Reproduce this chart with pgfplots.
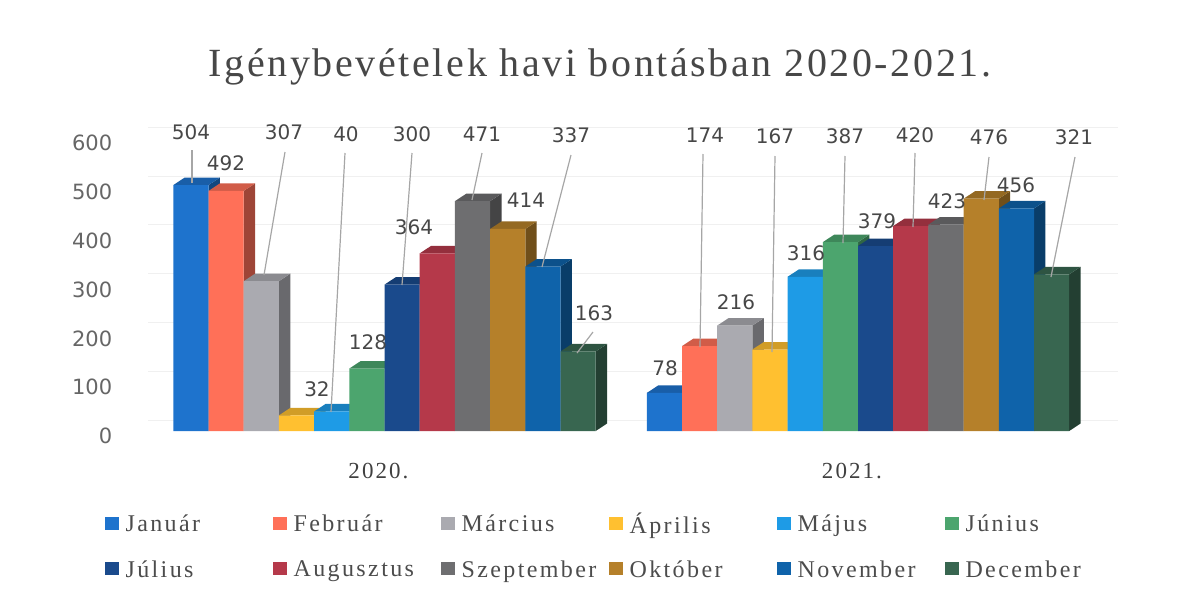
\documentclass[border=0pt]{standalone}
\usepackage{fontspec}
\usepackage{pgfplots}
\pgfplotsset{compat=1.18}
\setmainfont{Liberation Serif}
\newfontfamily\numf{DejaVu Sans}
\newfontfamily\serT[LetterSpace=6.5]{Liberation Serif}
\newfontfamily\serL[LetterSpace=9]{Liberation Serif}
\newfontfamily\serK[LetterSpace=10]{Liberation Serif}
\definecolor{cjan}{RGB}{30,115,205}
\definecolor{cfeb}{RGB}{255,112,88}
\definecolor{cmar}{RGB}{170,170,176}
\definecolor{capr}{RGB}{255,192,48}
\definecolor{cmaj}{RGB}{30,155,230}
\definecolor{cjun}{RGB}{76,165,110}
\definecolor{cjul}{RGB}{26,74,140}
\definecolor{caug}{RGB}{181,57,74}
\definecolor{csze}{RGB}{110,110,112}
\definecolor{cokt}{RGB}{181,128,42}
\definecolor{cnov}{RGB}{15,99,170}
\definecolor{cdec}{RGB}{56,102,80}
\def\ux{473.5}\def\uy{0.488}\def\bw{35.2}\def\dep{11.4}\def\dz{7.5}
\newcommand\tdface[4]{% category, index, colour, value
  \pgfmathsetmacro\xr{#1+(#2-6)*\bw/\ux}
  \pgfmathsetmacro\xl{\xr-\bw/\ux}
  \pgfmathsetmacro\xrd{\xr+\dep/\ux}
  \pgfmathsetmacro\xld{\xl+\dep/\ux}
  \pgfmathsetmacro\yz{\dz/\uy}
  \pgfmathsetmacro\yt{#4+\yz}
  \edef\temp{\noexpand\addplot[forget plot,mark=none,draw=none,fill=#3!62!black]
    coordinates {(\xr,0)(\xrd,\yz)(\xrd,\yt)(\xr,#4)} --cycle;
    \noexpand\addplot[forget plot,mark=none,draw=none,fill=#3!82!black]
    coordinates {(\xl,#4)(\xld,\yt)(\xrd,\yt)(\xr,#4)} --cycle;}\temp
}
\newcommand\tdbar[5]{% index, colour, 2020, 2021, name
  \tdface{0}{#1}{#2}{#3}
  \tdface{1}{#1}{#2}{#4}
  \pgfmathsetmacro\sh{(#1-6.5)*\bw}
  \edef\temp{\noexpand\addplot[mybar,fill=#2,bar shift=\sh pt] coordinates {(0,#3)(1,#4)};}\temp
  \addlegendentry{#5}
}
\newcommand\lab[3]{\node[font=\numf\fontsize{20}{20}\selectfont,text=black!72,inner sep=0pt] at (#1pt,-#2pt) {#3};}
\newcommand\lead[4]{\draw[black!35,line width=1.2pt] (#1pt,-#2pt) -- (#3pt,-#4pt);}
\begin{document}
\begin{tikzpicture}
\useasboundingbox (0,0) rectangle (1179pt,-598pt);
\begin{axis}[
  at={(384.5pt,-431pt)},anchor=origin,
  x=473.5pt,y=0.488pt,
  xmin=-0.5,xmax=1.55,ymin=0,ymax=600,
  clip=false,
  axis line style={draw=none},
  major tick style={draw=none},
  xtick={0,1},xticklabels={2020.,2021.},
  ytick={0,100,200,300,400,500,600},
  ymajorgrids,
  grid style={draw=black!6,line width=1pt,yshift=11pt},
  /pgf/number format/assume math mode=true,
  yticklabel style={font=\numf\fontsize{21}{21}\selectfont,text=black!60,xshift=-32pt,yshift=-5pt},
  xticklabel style={font=\serL\fontsize{23}{23}\selectfont,text=black!75,xshift=-6pt,yshift=-29pt},
  title={\serT Igénybevételek havi bontásban 2020-2021.},
  title style={font=\fontsize{40}{40}\selectfont,text=black!72,at={(0.466,1)},yshift=44pt},
  mybar/.style={ybar,bar width=35.2pt,draw=none,
    legend image code/.code={\fill[##1,draw=none] (0pt,-6pt) rectangle (14pt,7pt);}},
  legend columns=6,
  legend cell align=left,
  legend style={draw=none,fill=none,at={(axis cs:-0.598,-160)},anchor=north west,
    font=\serK\fontsize{24}{24}\selectfont,text=black!70,
    nodes={text width=140pt,align=left,inner xsep=7pt},
    /tikz/row sep=21pt,/tikz/column sep=0pt},
]
\tdbar{1}{cjan}{504}{78}{Január}
\tdbar{2}{cfeb}{492}{174}{Február}
\tdbar{3}{cmar}{307}{216}{Március}
\tdbar{4}{capr}{32}{167}{Április}
\tdbar{5}{cmaj}{40}{316}{Május}
\tdbar{6}{cjun}{128}{387}{Június}
\tdbar{7}{cjul}{300}{379}{Július}
\tdbar{8}{caug}{364}{420}{Augusztus}
\tdbar{9}{csze}{471}{423}{Szeptember}
\tdbar{10}{cokt}{414}{476}{Október}
\tdbar{11}{cnov}{337}{456}{November}
\tdbar{12}{cdec}{163}{321}{December}
\end{axis}
\lead{192}{150}{192}{183}
\lead{285}{152}{264}{275}
\lead{345}{153}{331}{412}
\lead{412}{153}{402}{285}
\lead{482}{153}{472}{200}
\lead{571}{155}{542}{267}
\lead{593}{332}{577}{353}
\lead{703}{154}{700}{347}
\lead{775}{156}{772}{352}
\lead{845}{156}{843}{243}
\lead{915}{153}{913}{227}
\lead{989}{157}{984}{200}
\lead{1075}{157}{1051}{277}
\lab{191}{132}{504}\lab{226}{163}{492}\lab{284}{132}{307}\lab{346}{134}{40}
\lab{412}{134}{300}\lab{482}{134}{471}\lab{526}{200}{414}\lab{571}{135}{337}
\lab{414}{227}{364}\lab{317}{389}{32}\lab{368}{342}{128}\lab{594}{313}{163}
\lab{665}{368}{78}\lab{705}{135}{174}\lab{736}{302}{216}\lab{775}{136}{167}
\lab{806}{253}{316}\lab{845}{136}{387}\lab{877}{221}{379}\lab{915}{135}{420}
\lab{947}{201}{423}\lab{989}{137}{476}\lab{1016}{185}{456}\lab{1074}{137}{321}
\end{tikzpicture}
\end{document}
